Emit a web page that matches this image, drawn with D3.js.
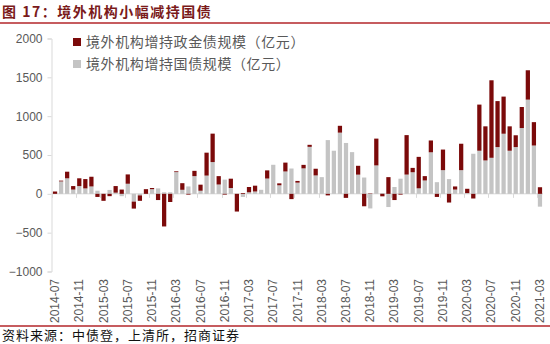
<!DOCTYPE html>
<html><head><meta charset="utf-8">
<script src="https://cdn.jsdelivr.net/npm/d3@7"></script>
<style>body{margin:0;background:#fff}svg{display:block}</style>
</head><body>
<svg id="c" width="550" height="344"></svg>
<script>
const months = [
 "2014-07","2014-08","2014-09","2014-10","2014-11","2014-12",
 "2015-01","2015-02","2015-03","2015-04","2015-05","2015-06","2015-07","2015-08","2015-09","2015-10","2015-11","2015-12",
 "2016-01","2016-02","2016-03","2016-04","2016-05","2016-06","2016-07","2016-08","2016-09","2016-10","2016-11","2016-12",
 "2017-01","2017-02","2017-03","2017-04","2017-05","2017-06","2017-07","2017-08","2017-09","2017-10","2017-11","2017-12",
 "2018-01","2018-02","2018-03","2018-04","2018-05","2018-06","2018-07","2018-08","2018-09","2018-10","2018-11","2018-12",
 "2019-01","2019-02","2019-03","2019-04","2019-05","2019-06","2019-07","2019-08","2019-09","2019-10","2019-11","2019-12",
 "2020-01","2020-02","2020-03","2020-04","2020-05","2020-06","2020-07","2020-08","2020-09","2020-10","2020-11","2020-12",
 "2021-01","2021-02","2021-03"
];
// 境外机构增持国债规模（亿元） – grey
const govBond = [
 0,160,200,55,100,70,
 95,40,0,50,15,-30,130,-100,-20,0,60,70,
 20,20,280,52,95,228,40,235,409,120,183,75,
 0,-40,20,30,52,197,374,110,288,326,144,328,
 605,237,215,692,555,788,655,537,247,210,-188,366,
 10,-170,88,195,248,278,71,172,535,150,305,190,
 55,305,10,516,555,430,464,602,774,555,602,847,
 1213,622,-165
];
// 境外机构增持政金债规模（亿元） – dark red
const policyBond = [
 30,10,85,45,100,120,
 125,-40,-90,-30,85,55,120,-90,-70,60,15,-80,
 -420,-105,10,85,-10,68,78,295,366,108,-10,120,
 -228,10,68,75,0,105,0,25,114,-68,22,45,
 26,86,0,-20,0,88,-52,0,114,-160,5,345,
 -32,215,-80,-10,508,56,405,56,152,-40,265,-112,
 40,340,55,-60,594,439,998,592,478,314,152,271,
 378,301,85
];
const yTicks = [-1000,-500,0,500,1000,1500,2000];
const xTickLabels = months.filter((m,i)=>i%4===0);
const seriesNames = ["境外机构增持政金债规模（亿元）","境外机构增持国债规模（亿元）"];
const seriesColors = ["#7b0a0a","#c4c4c4"];
const titleText = "图 17：境外机构小幅减持国债";
const sourceText = "资料来源：中债登，上清所，招商证券";

const svg = d3.select("#c");
const cjk = "'Noto Sans CJK SC','Noto Sans',sans-serif";
const lat = "'Liberation Sans','Open Sans',sans-serif";

// title & rules
svg.append("text").attr("x",2).attr("y",17)
  .attr("font-family",cjk).attr("font-weight","bold").attr("font-size",14)
  .attr("letter-spacing",1.5).attr("fill","#7a1a1a").text(titleText);
svg.append("line").attr("x1",0).attr("x2",550).attr("y1",23).attr("y2",23)
  .attr("stroke","#b3262a").attr("stroke-width",1.5);
svg.append("line").attr("x1",0).attr("x2",550).attr("y1",326).attr("y2",326)
  .attr("stroke","#b3262a").attr("stroke-width",1.5);
svg.append("text").attr("x",2).attr("y",340)
  .attr("font-family",cjk).attr("font-size",13).attr("letter-spacing",1)
  .attr("fill","#111").text(sourceText);

const x = d3.scaleBand().domain(months).range([52,543]).paddingInner(0.3).paddingOuter(0.15);
const y = d3.scaleLinear().domain([-1000,2000]).range([271.5,38.5]);

// y axis
const yAxis = d3.axisLeft(y).tickValues(yTicks).tickSize(4).tickPadding(5).tickFormat(d3.format("d"));
const gy = svg.append("g").attr("transform","translate(51.5,0)").call(yAxis);
gy.select(".domain").attr("stroke","#d9d9d9");
gy.selectAll(".tick line").attr("stroke","#d9d9d9");
gy.selectAll("text").attr("font-family",lat).attr("font-size",12).attr("fill","#595959");

// zero axis with ticks every 4 months
const gx = svg.append("g");
gx.append("line").attr("x1",52).attr("x2",543).attr("y1",y(0)).attr("y2",y(0))
  .attr("stroke","#d9d9d9").attr("stroke-width",1);
const step = x.step();
gx.selectAll("line.tk").data(xTickLabels).enter().append("line").attr("class","tk")
  .attr("x1",d=>Math.round(x(d)-x.paddingInner()*step/2)+0.5)
  .attr("x2",d=>Math.round(x(d)-x.paddingInner()*step/2)+0.5)
  .attr("y1",y(0)).attr("y2",y(0)+4).attr("stroke","#d9d9d9");

// bars
const table = months.map((m,i)=>({month:m, gov:govBond[i], policy:policyBond[i]}));
const stacked = d3.stack().keys(["gov","policy"]).offset(d3.stackOffsetDiverging)(table);
const colorOf = {gov:seriesColors[1], policy:seriesColors[0]};
stacked.forEach(s=>{
  svg.append("g").attr("fill",colorOf[s.key]).selectAll("rect").data(s).enter().append("rect")
    .attr("x",d=>x(d.data.month)).attr("width",x.bandwidth())
    .attr("y",d=>y(Math.max(d[0],d[1])))
    .attr("height",d=>Math.abs(y(d[0])-y(d[1])));
});

// x labels at bottom
svg.append("g").selectAll("text").data(xTickLabels).enter().append("text")
  .attr("transform",d=>`translate(${x(d)+x.bandwidth()/2+4},279) rotate(-90)`)
  .attr("text-anchor","end").attr("font-family",lat).attr("font-size",12)
  .attr("fill","#595959").text(d=>d);

// legend
const lg = svg.append("g");
seriesNames.forEach((n,i)=>{
  const cy = 42 + i*22;
  lg.append("rect").attr("x",73).attr("y",cy-4).attr("width",8).attr("height",8).attr("fill",seriesColors[i]);
  lg.append("text").attr("x",86).attr("y",cy).attr("dy","0.35em")
    .attr("font-family",cjk).attr("font-size",14).attr("letter-spacing",0.6)
    .attr("fill","#595959").text(n);
});
</script>
</body></html>
